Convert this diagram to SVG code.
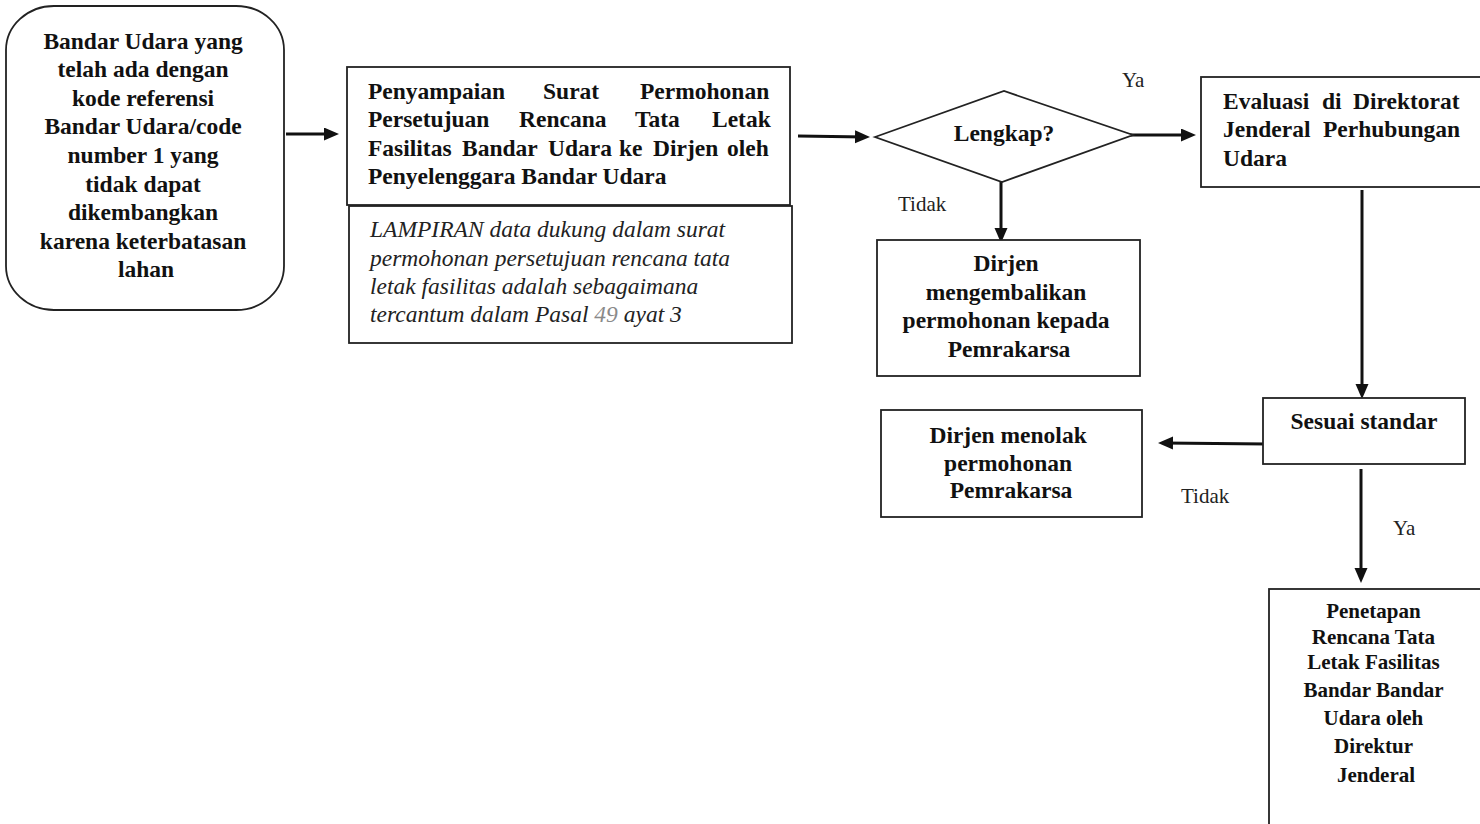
<svg xmlns="http://www.w3.org/2000/svg" width="1480" height="824" viewBox="0 0 1480 824">
<style>
.box{fill:#fff;stroke:#222;stroke-width:1.8}
.b{font-family:"Liberation Serif","Times New Roman",serif;font-weight:bold;font-size:23.5px;fill:#111}
.bs{font-family:"Liberation Serif","Times New Roman",serif;font-weight:bold;font-size:21px;fill:#111}
.c{text-anchor:middle}
.it{font-family:"Liberation Serif","Times New Roman",serif;font-style:italic;font-size:23.5px;fill:#222}
.lbl{font-family:"Liberation Serif","Times New Roman",serif;font-size:21px;fill:#222}
.con{stroke:#111;stroke-width:3;fill:none;marker-end:url(#ah)}
</style>
<defs>
<marker id="ah" markerUnits="userSpaceOnUse" markerWidth="16" markerHeight="14" refX="10" refY="6.5" orient="auto">
<path d="M0,0 L15,6.5 L0,13 z" fill="#111"/>
</marker>
</defs>
<rect width="1480" height="824" fill="#fff"/>

<g id="connectors">
<line class="con" x1="286" y1="134" x2="334" y2="134"/>
<line class="con" x1="798" y1="136" x2="865" y2="137"/>
<line class="con" x1="1122" y1="135" x2="1191" y2="135"/>
<line class="con" x1="1001" y1="182" x2="1001" y2="238"/>
<line class="con" x1="1362" y1="190" x2="1362" y2="394"/>
<line class="con" x1="1267" y1="444" x2="1163" y2="443"/>
<line class="con" x1="1361" y1="469" x2="1361" y2="578"/>
<text class="lbl" x="1122" y="87">Ya</text>
<text class="lbl" x="898" y="211">Tidak</text>
<text class="lbl" x="1181" y="503">Tidak</text>
<text class="lbl" x="1393" y="535">Ya</text>
</g>

<g id="node-start">
<rect class="box" x="6" y="6" width="278" height="304" rx="48" ry="44"/>
<text class="b c" x="146">
<tspan x="146" y="49">Bandar Udara yang</tspan>
<tspan x="146" y="77">telah ada dengan</tspan>
<tspan x="146" y="106">kode referensi</tspan>
<tspan x="146" y="134">Bandar Udara/code</tspan>
<tspan x="146" y="163">number 1 yang</tspan>
<tspan x="146" y="192">tidak dapat</tspan>
<tspan x="146" y="220">dikembangkan</tspan>
<tspan x="146" y="249">karena keterbatasan</tspan>
<tspan x="146" y="277">lahan</tspan>
</text>
</g>

<g id="node-penyampaian">
<rect class="box" x="347" y="67" width="443" height="138"/>
<text class="b">
<tspan x="368" y="99">Penyampaian</tspan><tspan x="543" y="99">Surat</tspan><tspan x="640" y="99">Permohonan</tspan>
<tspan x="368" y="127">Persetujuan</tspan><tspan x="519" y="127">Rencana</tspan><tspan x="635" y="127">Tata</tspan><tspan x="712" y="127">Letak</tspan>
<tspan x="368" y="156">Fasilitas</tspan><tspan x="462" y="156">Bandar</tspan><tspan x="548" y="156">Udara</tspan><tspan x="619" y="156">ke</tspan><tspan x="653" y="156">Dirjen</tspan><tspan x="727" y="156">oleh</tspan>
<tspan x="368" y="184">Penyelenggara Bandar Udara</tspan>
</text>
</g>

<g id="node-lampiran">
<rect class="box" x="349" y="206" width="443" height="137"/>
<text class="it">
<tspan x="370" y="237">LAMPIRAN data dukung dalam surat</tspan>
<tspan x="370" y="266">permohonan persetujuan rencana tata</tspan>
<tspan x="370" y="294">letak fasilitas adalah sebagaimana</tspan>
<tspan x="370" y="322">tercantum dalam Pasal <tspan fill="#8a8a8a">49</tspan> ayat 3</tspan>
</text>
</g>

<g id="node-lengkap">
<polygon class="box" points="875,137 1004,91 1133,135 1002,182"/>
<text class="b c" x="1004" y="141">Lengkap?</text>
</g>

<g id="node-evaluasi">
<rect class="box" x="1201" y="77" width="280" height="110"/>
<text class="b">
<tspan x="1223" y="109">Evaluasi</tspan><tspan x="1322" y="109">di</tspan><tspan x="1353" y="109">Direktorat</tspan>
<tspan x="1223" y="137">Jenderal</tspan><tspan x="1323" y="137">Perhubungan</tspan>
<tspan x="1223" y="166">Udara</tspan>
</text>
</g>

<g id="node-mengembalikan">
<rect class="box" x="877" y="240" width="263" height="136"/>
<text class="b c">
<tspan x="1009" y="271">Dirjen</tspan>
<tspan x="1009" y="300">mengembalikan</tspan>
<tspan x="1009" y="328">permohonan kepada</tspan>
<tspan x="1009" y="357">Pemrakarsa</tspan>
</text>
</g>

<g id="node-sesuai">
<rect class="box" x="1263" y="398" width="202" height="66"/>
<text class="b c" x="1364" y="429">Sesuai standar</text>
</g>

<g id="node-menolak">
<rect class="box" x="881" y="410" width="261" height="107"/>
<text class="b c">
<tspan x="1011" y="443">Dirjen menolak</tspan>
<tspan x="1011" y="471">permohonan</tspan>
<tspan x="1011" y="498">Pemrakarsa</tspan>
</text>
</g>

<g id="node-penetapan">
<rect class="box" x="1269" y="589" width="220" height="250"/>
<text class="bs c">
<tspan x="1376" y="618">Penetapan</tspan>
<tspan x="1376" y="644">Rencana Tata</tspan>
<tspan x="1376" y="669">Letak Fasilitas</tspan>
<tspan x="1376" y="697">Bandar Bandar</tspan>
<tspan x="1376" y="725">Udara oleh</tspan>
<tspan x="1376" y="753">Direktur</tspan>
<tspan x="1376" y="782">Jenderal</tspan>
</text>
</g>
</svg>
